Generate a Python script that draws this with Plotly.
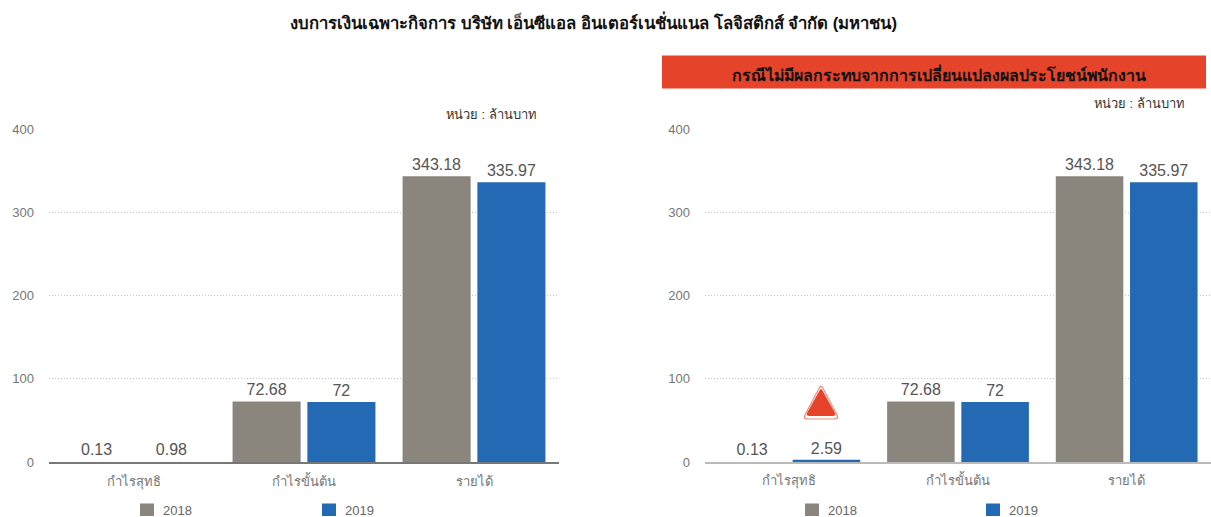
import plotly.graph_objects as go

W, H = 1211, 517
title = "งบการเงินเฉพาะกิจการ บริษัท เอ็นซีแอล อินเตอร์เนชั่นแนล โลจิสติกส์ จำกัด (มหาชน)"
banner = "กรณีไม่มีผลกระทบจากการเปลี่ยนแปลงผลประโยชน์พนักงาน"
unit = "หน่วย : ล้านบาท"
categories = ["กำไรสุทธิ", "กำไรขั้นต้น", "รายได้"]
left_2018 = [0.13, 72.68, 343.18]
left_2019 = [0.98, 72, 335.97]
right_2018 = [0.13, 72.68, 343.18]
right_2019 = [2.59, 72, 335.97]
label_left_2019 = ["0.98", "72", "335.97"]
label_right_2019 = ["2.59", "72", "335.97"]
label_2018 = ["0.13", "72.68", "343.18"]
series_names = ["2018", "2019"]
tick_values = [0, 100, 200, 300, 400]
C18, C19 = "#8A857D", "#2469B3"
FONT = "Liberation Sans, Noto Sans, sans-serif"

def px(x): return x / W
def py(y): return 1 - y / H

fig = go.Figure()

def add_bar(y, text, name, color, xa, ya):
    # values under about one pixel tall do not show in the reference; plotly would snap them to a full pixel
    opacity = [0 if v < 1 else 1 for v in y]
    fig.add_bar(x=categories, y=y, text=text, name=name,
                marker=dict(color=color, line_width=0, opacity=opacity),
                xaxis=xa, yaxis=ya, showlegend=False,
                textposition="outside", cliponaxis=False, textangle=0,
                textfont=dict(size=16, color="#555555", family=FONT), hoverinfo="x+y")

add_bar(left_2018, label_2018, series_names[0], C18, "x", "y")
add_bar(left_2019, label_left_2019, series_names[1], C19, "x", "y")
add_bar(right_2018, label_2018, series_names[0], C18, "x2", "y2")
add_bar(right_2019, label_right_2019, series_names[1], C19, "x2", "y2")

def xaxis(dom, linecolor, width):
    return dict(domain=[px(dom[0]), px(dom[1])], showgrid=False, showline=True, linecolor=linecolor, linewidth=width,
                automargin=False, ticks="", tickfont=dict(size=13, color="#777777", family=FONT),
                ticklabelstandoff=6, fixedrange=True)

def yaxis(anchor):
    return dict(domain=[py(462), py(129)], range=[0, 400], tickvals=tick_values, anchor=anchor, automargin=False,
                showgrid=True, gridcolor="#C4C4C4", griddash="1px,2px", gridwidth=1, zeroline=False, showline=False,
                ticks="", ticklabelstandoff=14, tickfont=dict(size=13, color="#777777", family=FONT), fixedrange=True)

def tri(x0, y0, x1, y1, r):
    xm = (x0 + x1) / 2
    return (f"M{px(xm-r*.55)},{py(y0+r*.9)} Q{px(xm)},{py(y0-r*.2)} {px(xm+r*.55)},{py(y0+r*.9)} "
            f"L{px(x1-r*.2)},{py(y1-r*1.1)} Q{px(x1+r*.3)},{py(y1)} {px(x1-r)},{py(y1)} "
            f"L{px(x0+r)},{py(y1)} Q{px(x0-r*.3)},{py(y1)} {px(x0+r*.2)},{py(y1-r*1.1)} Z")

shapes = [
    dict(type="rect", xref="paper", yref="paper", x0=px(662), x1=px(1206), y0=py(88.5), y1=py(55.5),
         fillcolor="#E5432A", line_width=0, layer="below"),
    dict(type="path", xref="paper", yref="paper", path=tri(803.5, 384, 838.5, 419.5, 4), fillcolor="#F08A78", line_width=0),
    dict(type="path", xref="paper", yref="paper", path=tri(805, 386, 837, 418.5, 3.5), fillcolor="#FFFFFF", line_width=0),
    dict(type="path", xref="paper", yref="paper", path=tri(806.5, 388, 835.5, 416, 3), fillcolor="#E5432A", line_width=0),
]

annotations = [
    dict(text=f"<b>{title}</b>", x=px(593), y=py(22), xref="paper", yref="paper", showarrow=False,
         xanchor="center", yanchor="middle", font=dict(size=16.7, color="#111111", family=FONT)),
    dict(text=f"<b>{banner}</b>", x=px(939), y=py(74), xref="paper", yref="paper", showarrow=False,
         xanchor="center", yanchor="middle", font=dict(size=15.9, color="#111111", family=FONT)),
    dict(text=unit, x=px(538), y=py(115), xref="paper", yref="paper", showarrow=False,
         xanchor="right", yanchor="middle", font=dict(size=12.9, color="#333333", family=FONT)),
    dict(text=unit, x=px(1186), y=py(103), xref="paper", yref="paper", showarrow=False,
         xanchor="right", yanchor="middle", font=dict(size=12.9, color="#333333", family=FONT)),
]

# legend keys, one pair under each chart
for swatch_x, label_x, name, color in [(140, 161, series_names[0], C18), (322, 343, series_names[1], C19),
                                       (805, 826, series_names[0], C18), (986, 1007, series_names[1], C19)]:
    shapes.append(dict(type="rect", xref="paper", yref="paper", x0=px(swatch_x), x1=px(swatch_x + 14),
                       y0=py(516), y1=py(503.5), fillcolor=color, line_width=0))
    annotations.append(dict(text=name, x=px(label_x), y=py(510), xref="paper", yref="paper", showarrow=False,
                            xanchor="left", yanchor="middle", font=dict(size=13, color="#666666", family=FONT)))

fig.update_layout(
    width=W, height=H, margin=dict(l=0, r=0, t=0, b=0), autosize=False,
    paper_bgcolor="#FFFFFF", plot_bgcolor="#FFFFFF", barmode="group", bargap=0.12, bargroupgap=0.09,
    xaxis=xaxis((49, 559), "#777777", 2), xaxis2=dict(xaxis((705, 1211), "#BBBBBB", 1.5), anchor="y2"),
    yaxis=yaxis("x"), yaxis2=yaxis("x2"),
    showlegend=False, shapes=shapes, annotations=annotations, font=dict(family=FONT),
)
fig.write_html("out.html", config=dict(displayModeBar=False),
               post_script="document.body.style.margin='0';document.documentElement.style.overflow='hidden';")
